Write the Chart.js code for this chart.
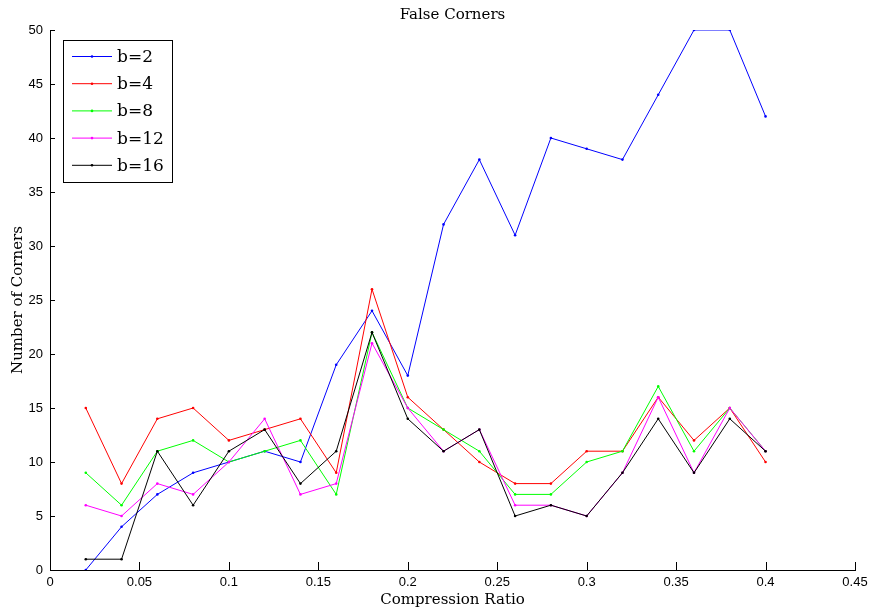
<!DOCTYPE html>
<html>
<head>
<meta charset="utf-8">
<script src="https://cdn.jsdelivr.net/npm/chart.js@4.4.0/dist/chart.umd.min.js"></script>
<style>
html,body{margin:0;padding:0;background:#fff;}
#wrap{position:relative;width:870px;height:611px;}
</style>
</head>
<body>
<div id="wrap"><canvas id="c" width="870" height="611"></canvas></div>
<script>
const compression = [0.02,0.04,0.06,0.08,0.10,0.12,0.14,0.16,0.18,0.20,0.22,0.24,0.26,0.28,0.30,0.32,0.34,0.36,0.38,0.40];
const b2  = [0,4,7,9,10,11,10,19,24,18,32,38,31,40,39,38,44,50,50,42];
const b4  = [15,8,14,15,12,13,14,9,26,16,13,10,8,8,11,11,16,12,15,10];
const b8  = [9,6,11,12,10,11,12,7,22,15,13,11,7,7,10,11,17,11,15,11];
const b12 = [6,5,8,7,10,14,7,8,21,15,11,13,6,6,5,9,16,9,15,11];
const b16 = [1,1,11,6,11,13,8,11,22,14,11,13,5,6,5,9,14,9,14,11];
const seriesNames = ['b=2','b=4','b=8','b=12','b=16'];
const xTickLabels = ['0','0.05','0.1','0.15','0.2','0.25','0.3','0.35','0.4','0.45'];
const yTickLabels = ['0','5','10','15','20','25','30','35','40','45','50'];
const titleText = 'False Corners';
const xTitle = 'Compression Ratio';
const yTitle = 'Number of Corners';

const colors = ['#0000ff','#ff0000','#00ff00','#ff00ff','#000000'];
const allSeries = [b2,b4,b8,b12,b16];
const SERIF = '"DejaVu Serif", "Liberation Serif", serif';
const SANS = '"Liberation Sans", Arial, sans-serif';

const datasets = allSeries.map((s,i)=>({
  label: seriesNames[i],
  data: s.map((v,j)=>({x:compression[j], y:v})),
  borderColor: colors[i],
  backgroundColor: colors[i],
  borderWidth: 1,
  pointRadius: 1.3,
  pointBorderWidth: 0,
  pointHoverRadius: 1.3,
  tension: 0,
  fill: false,
  order: 5 - i
}));

const decor = {
  id: 'decor',
  afterDraw(chart){
    const ctx = chart.ctx, a = chart.chartArea;
    const xs = chart.scales.x, ys = chart.scales.y;
    ctx.save();
    ctx.strokeStyle = '#000'; ctx.lineWidth = 1;
    // inward ticks
    ctx.beginPath();
    xs.ticks.forEach(t=>{ const px = Math.round(xs.getPixelForValue(t.value))+0.5; ctx.moveTo(px,a.bottom); ctx.lineTo(px,a.bottom-8); });
    ys.ticks.forEach(t=>{ const py = Math.round(ys.getPixelForValue(t.value))+0.5; ctx.moveTo(a.left,py); ctx.lineTo(a.left+5,py); });
    ctx.stroke();
    // title
    ctx.fillStyle = '#000';
    ctx.font = '15px ' + SERIF;
    ctx.textAlign = 'center'; ctx.textBaseline = 'middle';
    ctx.fillText(titleText, (a.left+a.right)/2, 15);
    // axis titles
    ctx.fillText(xTitle, (a.left+a.right)/2, 600);
    ctx.save();
    ctx.translate(18, (a.top+a.bottom)/2);
    ctx.rotate(-Math.PI/2);
    ctx.fillText(yTitle, 0, 0);
    ctx.restore();
    // legend
    const lx = 63.5, ly = 40.5, lw = 109, lh = 142;
    ctx.fillStyle = '#fff';
    ctx.fillRect(lx, ly, lw, lh);
    ctx.strokeStyle = '#000'; ctx.lineWidth = 1;
    ctx.strokeRect(lx, ly, lw, lh);
    ctx.font = '17px ' + SERIF;
    ctx.textAlign = 'left';
    chart.data.datasets.forEach((d,i)=>{
      const y = 56.5 + i*27.2;
      ctx.strokeStyle = d.borderColor; ctx.lineWidth = 1;
      ctx.beginPath(); ctx.moveTo(72, y); ctx.lineTo(112, y); ctx.stroke();
      ctx.fillStyle = d.borderColor;
      ctx.beginPath(); ctx.arc(92, y, 1.3, 0, Math.PI*2); ctx.fill();
      ctx.fillStyle = '#000';
      ctx.fillText(d.label, 117, y+1);
    });
    ctx.restore();
  }
};

new Chart(document.getElementById('c'), {
  type: 'line',
  data: { datasets },
  options: {
    responsive: false,
    animation: false,
    events: [],
    layout: { padding: { top: 30, right: 15, left: 0, bottom: 0 } },
    plugins: { legend: { display: false }, title: { display: false }, tooltip: { enabled: false } },
    scales: {
      x: {
        type: 'linear', min: 0, max: 0.45,
        grid: { display: false, drawTicks: false },
        border: { display: true, color: '#000', width: 1 },
        ticks: { stepSize: 0.05, padding: 5, color: '#000', font: { family: SANS, size: 13 },
          callback: (v, i) => xTickLabels[i] },
        afterFit: s => { s.height = 41; s.paddingRight = 0; s.paddingLeft = 0; }
      },
      y: {
        min: 0, max: 50,
        grid: { display: false, drawTicks: false },
        border: { display: true, color: '#000', width: 1 },
        ticks: { stepSize: 5, padding: 7, color: '#000', font: { family: SANS, size: 13 },
          callback: (v, i) => yTickLabels[i] },
        afterFit: s => { s.width = 50; s.paddingTop = 0; s.paddingBottom = 0; }
      }
    }
  },
  plugins: [decor]
});
</script>
</body>
</html>
